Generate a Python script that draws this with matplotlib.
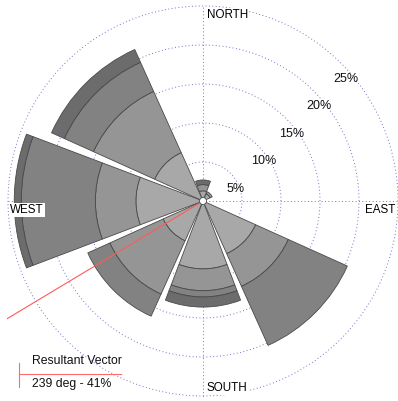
import numpy as np
import matplotlib.pyplot as plt
from matplotlib.patches import Wedge, Circle

plt.rcParams['font.family'] = ['Liberation Sans', 'DejaVu Sans']

# frequency (%) per direction, stacked by speed class
directions = [0, 45, 90, 135, 180, 225, 270, 315]
class1 = [1.3, 1.0, 0.0, 7.4, 8.7, 5.6, 8.6, 6.8]
class2 = [0.8, 0.3, 0.0, 4.6, 2.8, 7.5, 5.2, 8.6]
class3 = [0.0, 0.0, 0.0, 8.3, 0.8, 3.1, 9.5, 4.1]
class4 = [0.6, 0.0, 0.0, 0.0, 1.3, 0.0, 0.9, 1.8]
class_colors = ['#a8a8a8', '#959595', '#828282', '#6c6c6c']

rings = [5, 10, 15, 20, 25]
ring_labels = ['5%', '10%', '15%', '20%', '25%']

resultant_dir = 239
resultant_pct = 41

sector_width = 41.5
grid_color = '#7474c8'
edge_color = '#4a4a4a'

fig = plt.figure(figsize=(3.98, 4.01), dpi=100)
ax = fig.add_axes([7 / 398, 4 / 401, 392 / 398, 392 / 401])
lim = 196 / 7.8
ax.set_xlim(-lim, lim)
ax.set_ylim(-lim, lim)
ax.set_aspect('equal')
ax.axis('off')

# dotted rings and compass axes
for r in rings:
    ax.add_patch(Circle((0, 0), r, fill=False, ec=grid_color, lw=0.7,
                        ls=(0, (1, 2.5)), zorder=1))
ax.plot([-25, 25], [0, 0], color=grid_color, lw=0.7, ls=(0, (1, 2.5)), zorder=1)
ax.plot([0, 0], [-25, 25], color=grid_color, lw=0.7, ls=(0, (1, 2.5)), zorder=1)

# stacked sectors
for i, d in enumerate(directions):
    theta = 90 - d
    bottom = 0.0
    for vals, col in zip([class1, class2, class3, class4], class_colors):
        v = vals[i]
        if v <= 0:
            continue
        ax.add_patch(Wedge((0, 0), bottom + v, theta - sector_width / 2,
                           theta + sector_width / 2, width=v, fc=col,
                           ec=edge_color, lw=0.6, zorder=2))
        bottom += v

ax.add_patch(Circle((0, 0), 0.45, fc='white', ec=edge_color, lw=0.6, zorder=4))

# resultant vector
a = np.radians(90 - resultant_dir)
ax.plot([0, resultant_pct * np.cos(a)], [0, resultant_pct * np.sin(a)],
        color='#ff5a5a', lw=0.8, zorder=3)

# ring labels
for r, lab in zip(rings, ring_labels):
    ax.text(r * np.cos(np.pi / 4) + 0.7, r * np.sin(np.pi / 4) - 2.0, lab,
            ha='center', va='center', fontsize=9, color='#111111', zorder=5)

box = dict(fc='white', ec='none', pad=0.5)
ax.text(0.5, 23.85, 'NORTH', ha='left', va='center', fontsize=8.4, bbox=box, zorder=5)
ax.text(24.6, -1.15, 'EAST', ha='right', va='center', fontsize=8.4, bbox=box, zorder=5)
ax.text(0.5, -24.0, 'SOUTH', ha='left', va='center', fontsize=8.4, bbox=box, zorder=5)
ax.text(-24.7, -1.15, 'WEST', ha='left', va='center', fontsize=8.4, bbox=box, zorder=5)

# legend
W, H = 398, 401
fig.text(31.7 / W, 1 - 360.7 / H, 'Resultant Vector', ha='left', va='center',
         fontsize=8.8, color='#111111')
fig.text(31.7 / W, 1 - 384.5 / H, f'{resultant_dir} deg - {resultant_pct}%',
         ha='left', va='center', fontsize=8.8, color='#111111')
fig.add_artist(plt.Line2D([19.3 / W, 120.7 / W], [1 - 374 / H, 1 - 374 / H],
                          color='#ff6a6a', lw=0.8))
fig.add_artist(plt.Line2D([19.3 / W, 19.3 / W], [1 - 362.7 / H, 1 - 386.7 / H],
                          color='#ff6a6a', lw=0.8))

fig.savefig('out.png', dpi=100, facecolor='white')
